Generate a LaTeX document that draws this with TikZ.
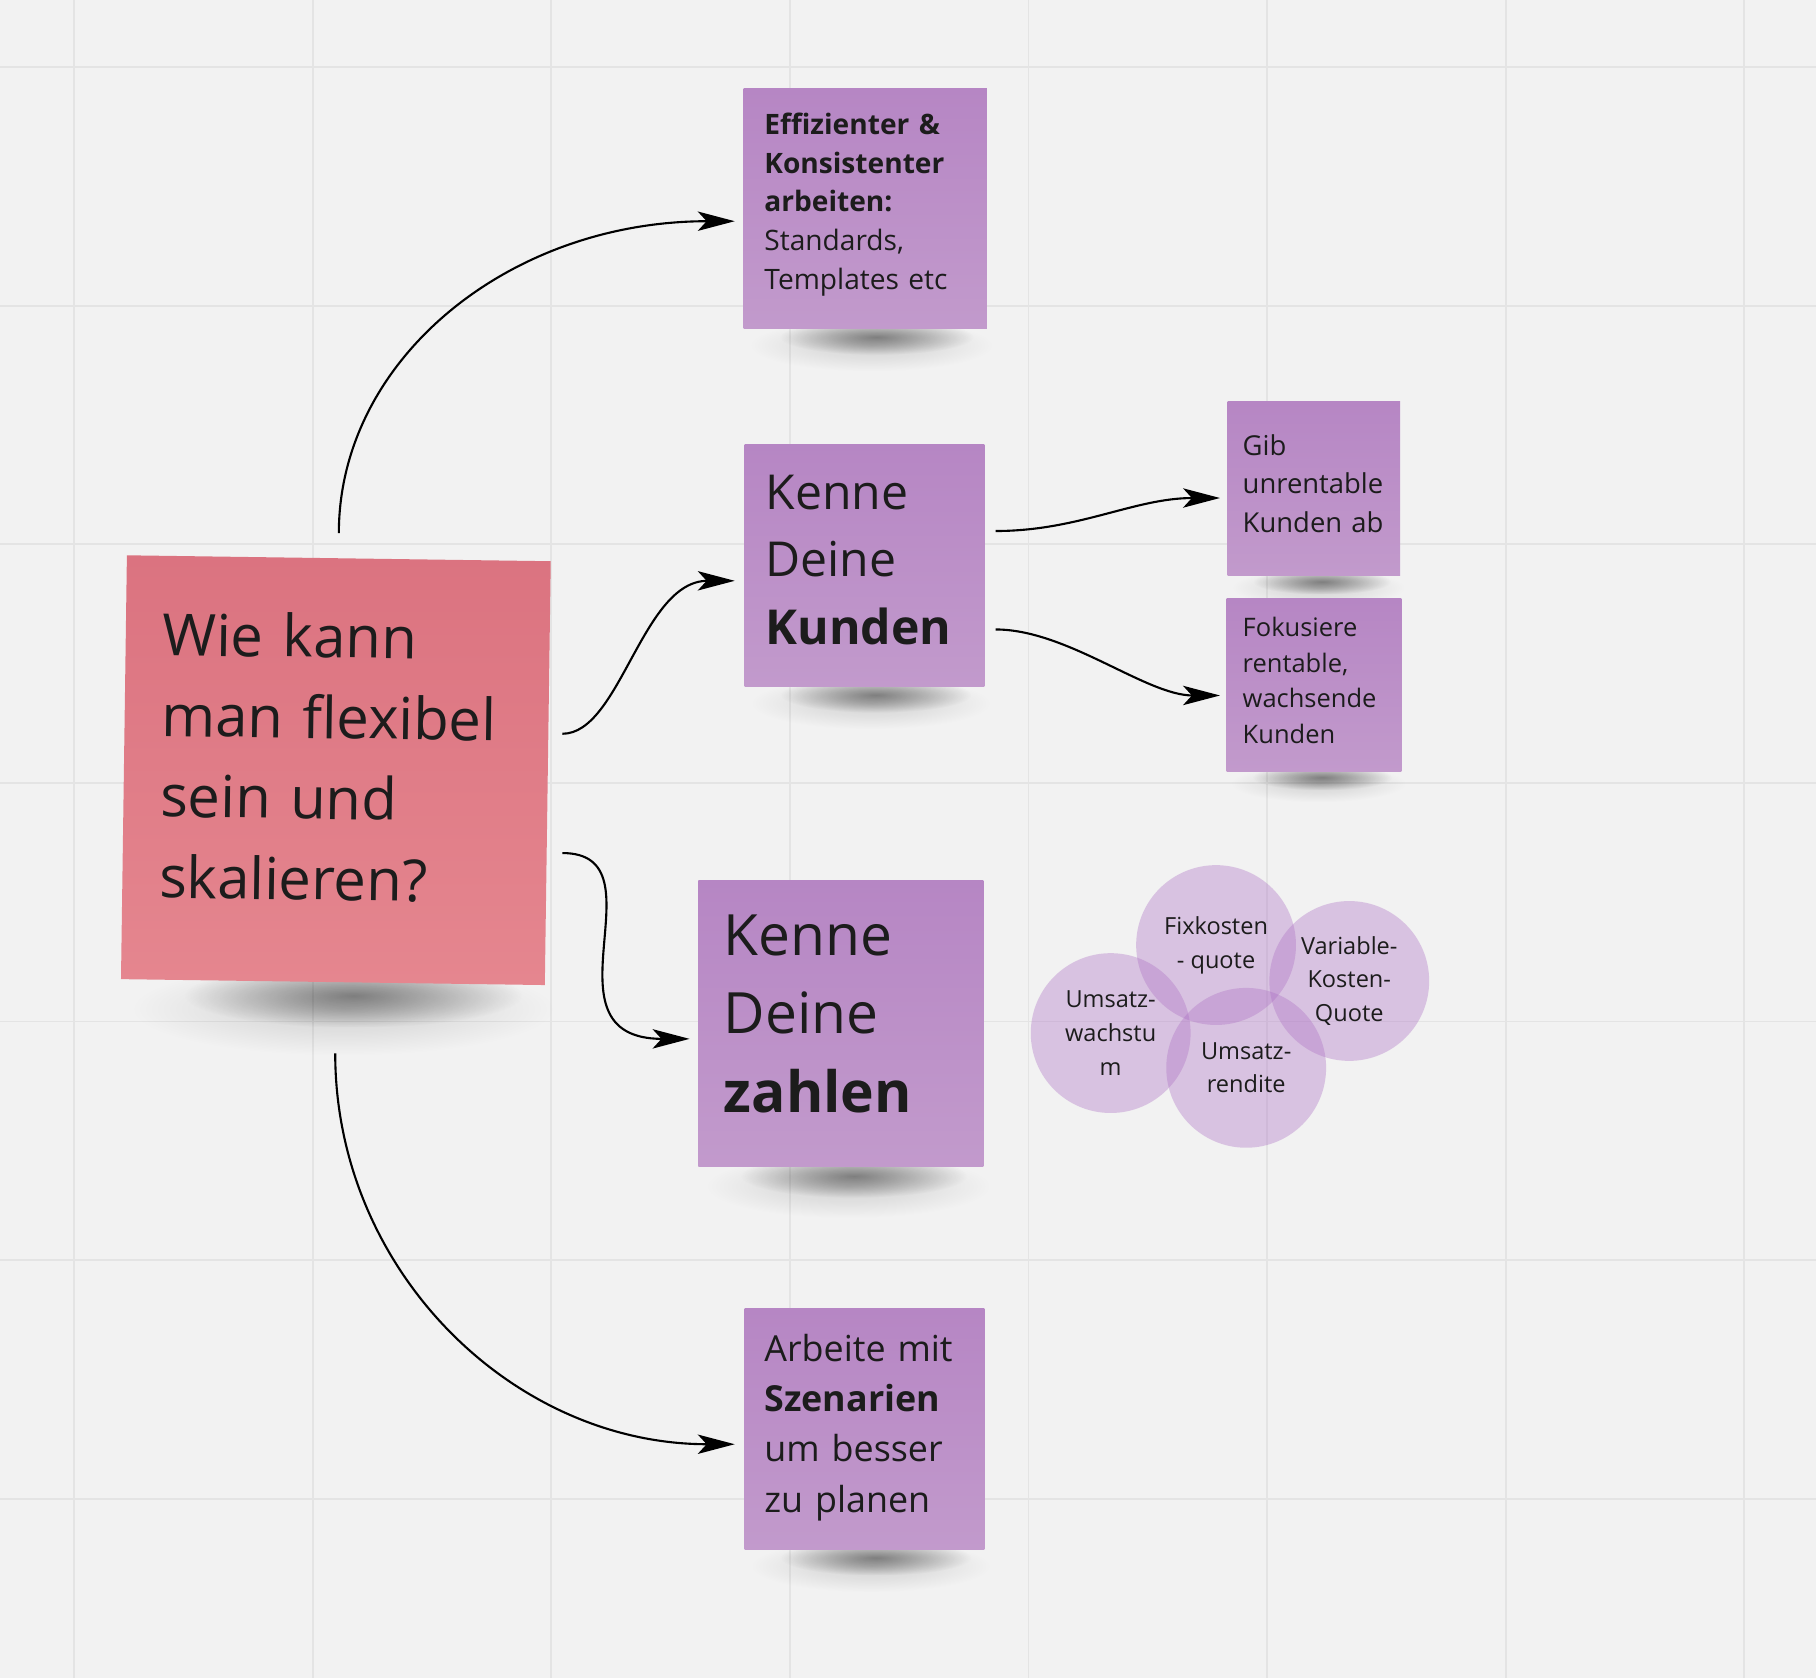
\documentclass[tikz,border=0pt]{standalone}
\usepackage{fontspec}
\setmainfont{Open Sans}
\usetikzlibrary{arrows.meta,calc,fadings}
\definecolor{canvas}{HTML}{F2F2F2}
\definecolor{gridgray}{HTML}{E4E4E4}
\definecolor{pinktop}{HTML}{DB7380}
\definecolor{pinkbot}{HTML}{E5868F}
\definecolor{lilatop}{HTML}{B686C4}
\definecolor{lilabot}{HTML}{C29ACC}
\definecolor{lilaring}{HTML}{AC6FC3}
\definecolor{ink}{HTML}{1C1C1C}
\def\px{0.01158cm}
\newcommand{\notetail}[1]{\par\vspace{#1}}
\newcommand{\notecast}[2]{%
    \fill [cast, opacity=.14] ($(#1.south west)+(#2/3,-#2/2)$) rectangle ($(#1.south east)+(#2/4,#2*2)$);
    \fill [cast] ($(#1.south west)!.15!(#1.south east)+(0,-#2/2)$) rectangle ($(#1.south east)+(-#2/1.5,#2*1.2)$);}
\pgfdeclarelayer{gridlayer}
\pgfdeclarelayer{castlayer}
\pgfsetlayers{gridlayer,castlayer,main}
\tikzfading[name=castfade, inner color=transparent!0, outer color=transparent!100]
\tikzset{
    note/.style={rectangle, inner sep=0pt, align=left, text=ink,
        top color=lilatop, bottom color=lilabot},
    pinknote/.style={note, top color=pinktop, bottom color=pinkbot},
    ring/.style={circle, inner sep=0pt, minimum size=138*\px, align=center,
        fill=lilaring, fill opacity=.36, text opacity=1, text=ink,
        font=\fontsize{6.7}{9.6}\selectfont},
    conn/.style={draw=black, line width=.6pt,
        -{Stealth[length=10.5pt, width=5.5pt, inset=2.5pt]}},
    cast/.style={fill=black, opacity=.42, path fading=castfade}
}
\begin{document}
\begin{tikzpicture}[x=\px, y=-\px]
        \useasboundingbox 
            (0,0) rectangle (1568,1449);
        \begin{pgfonlayer}{gridlayer}
        \fill 
            [canvas] (0,0) rectangle (1568,1449);
        \foreach \gx in {64,270,...,1506}
            \draw [gridgray, line width=.5pt] (\gx,0) -- (\gx,1449);
        \foreach \gy in {58,264,...,1294}
            \draw [gridgray, line width=.5pt] (0,\gy) -- (1568,\gy);
        \end{pgfonlayer}
        \node 
            [pinknote, minimum width=366*\px, minimum height=366*\px, text width=302*\px,
            rotate=-0.8, font=\fontsize{16.5}{23}\selectfont] 
            (quest) at (290,665) {Wie kann\\man flexibel\\sein und\\skalieren?\notetail{7.3pt}};
        \node 
            [note, minimum width=210*\px, minimum height=208*\px, text width=174*\px,
            font=\fontsize{8}{11}\selectfont] 
            (effiz) at (747,180) {\textbf{Effizienter \&}\\\textbf{Konsistenter}\\\textbf{arbeiten:}\\Standards,\\Templates etc\notetail{2.3pt}};
        \node 
            [note, minimum width=207*\px, minimum height=209*\px, text width=171*\px,
            font=\fontsize{13.7}{19.1}\selectfont] 
            (kunden) at (746.5,488.5) {Kenne\\Deine\\\textbf{Kunden}\notetail{3.3pt}};
        \node 
            [note, minimum width=149*\px, minimum height=150*\px, text width=123*\px,
            font=\fontsize{7.8}{10.9}\selectfont] 
            (abgeben) at (1134.5,422) {Gib\\unrentable\\Kunden ab\notetail{3pt}};
        \node 
            [note, minimum width=151*\px, minimum height=149*\px, text width=123*\px,
            font=\fontsize{7.25}{10.2}\selectfont] 
            (fokus) at (1134.5,591.5) {Fokusiere\\rentable,\\wachsende\\Kunden\notetail{2.6pt}};
        \node 
            [note, minimum width=246*\px, minimum height=247*\px, text width=202*\px,
            font=\fontsize{16.2}{22.4}\selectfont] 
            (zahlen) at (726,883.5) {Kenne\\Deine\\\textbf{zahlen}\notetail{5.3pt}};
        \node 
            [note, minimum width=207*\px, minimum height=208*\px, text width=173*\px,
            font=\fontsize{10.2}{14.3}\selectfont] 
            (szen) at (746.5,1234) {Arbeite mit\\\textbf{Szenarien}\\um besser\\zu planen\notetail{1pt}};
        \begin{pgfonlayer}{castlayer}
        \notecast{quest}{30}
        \notecast{effiz}{18}
        \notecast{kunden}{18}
        \notecast{abgeben}{13}
        \notecast{fokus}{13}
        \notecast{zahlen}{22}
        \notecast{szen}{18}
        \end{pgfonlayer}
        \node 
            [ring] (fixq) at (1050,816) {Fixkosten\\- quote};
        \node 
            [ring] (varq) at (1165,847) {Variable-\\Kosten-\\Quote};
        \node 
            [ring] (wachs) at (959,892) {Umsatz-\\wachstu\\m};
        \node 
            [ring] (rend) at (1076,922) {Umsatz-\\rendite};
        \draw 
            [conn] ($(quest.north)+(0,-21)$) .. controls +(0,-150) and +(-195,0) .. ($(effiz.west)+(-7,11)$);
        \draw 
            [conn] ($(quest.east)+(12,-34)$) .. controls +(50,0) and +(-80,0) .. ($(kunden.west)+(-8,13)$);
        \draw 
            [conn] ($(quest.east)+(12,69)$) .. controls +(90,0) and +(-133,0) .. ($(zahlen.west)+(-7,13.5)$);
        \draw 
            [conn] ($(quest.south)+(2,61)$) .. controls +(0,187) and +(-192,0) .. ($(szen.west)+(-8,13)$);
        \draw 
            [conn] ($(kunden.east)+(9,-30)$) .. controls +(72,0) and +(-74,0) .. ($(abgeben.west)+(-6,8)$);
        \draw 
            [conn] ($(kunden.east)+(9,55)$) .. controls +(62,0) and +(-64,0) .. ($(fokus.west)+(-5,9)$);
    \end{tikzpicture}
\end{document}
